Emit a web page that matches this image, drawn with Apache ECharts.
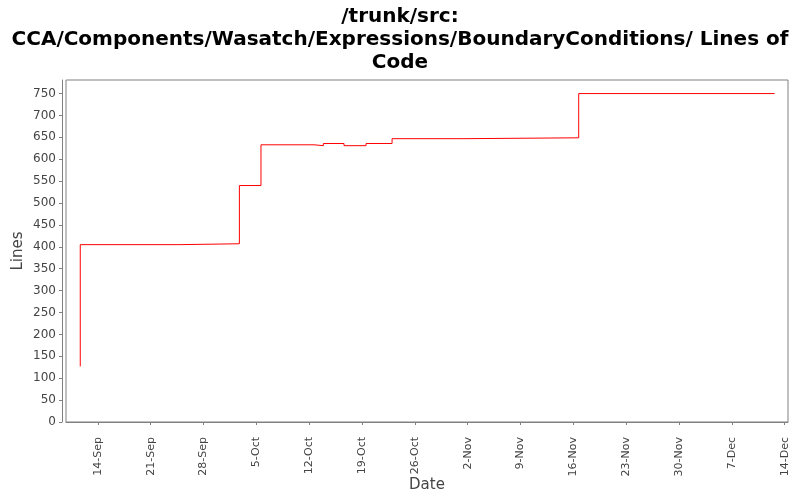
<!DOCTYPE html>
<html>
<head>
<meta charset="utf-8">
<script src="https://cdn.jsdelivr.net/npm/echarts@6/dist/echarts.min.js"></script>
<style>html,body{margin:0;padding:0;background:#fff;}#c{width:800px;height:500px;}</style>
</head>
<body>
<div id="c"></div>
<script>
// Data
var changeDates = [
  "2009-09-11 16:00", "2009-09-11 16:00", "2009-09-24 17:45", "2009-10-02 18:00",
  "2009-10-05 14:40", "2009-10-12 15:20", "2009-10-13 21:00", "2009-10-16 14:40",
  "2009-10-19 12:45", "2009-10-22 23:30", "2009-11-01 12:00", "2009-11-16 17:00",
  "2009-12-12 16:00"
];
var linesOfCode = [127, 405, 407, 540, 633, 631, 636, 631, 636, 647, 649, 750, 750];
var tickDates = [
  "2009-09-14", "2009-09-21", "2009-09-28", "2009-10-05", "2009-10-12", "2009-10-19",
  "2009-10-26", "2009-11-02", "2009-11-09", "2009-11-16", "2009-11-23", "2009-11-30",
  "2009-12-07", "2009-12-14"
];
var monthNames = ["Jan","Feb","Mar","Apr","May","Jun","Jul","Aug","Sep","Oct","Nov","Dec"];
var axisStart = "2009-09-09 18:40";
var axisEnd = "2009-12-14 10:30";

function toMs(s) {
  if (s.length === 10) s += " 00:00";
  return Date.parse(s.replace(" ", "T") + ":00Z");
}
var seriesData = changeDates.map(function (d, i) { return [toMs(d), linesOfCode[i]]; });
var tickMs = tickDates.map(toMs);

var chart = echarts.init(document.getElementById('c'), null, {renderer: 'canvas'});
chart.setOption({
  animation: false,
  backgroundColor: '#ffffff',
  title: {
    text: '/trunk/src:\nCCA/Components/Wasatch/Expressions/BoundaryConditions/ Lines of\nCode',
    left: 'center',
    top: 0,
    textStyle: {
      fontFamily: 'DejaVu Sans',
      fontWeight: 'bold',
      fontSize: 20,
      lineHeight: 23,
      color: '#000'
    }
  },
  grid: {
    left: 66, right: 12, top: 80, bottom: 78,
    outerBoundsMode: 'none',
    containLabel: false,
    show: true, borderColor: '#808080', borderWidth: 1, backgroundColor: '#fff'
  },
  xAxis: {
    type: 'value',
    min: toMs(axisStart),
    max: toMs(axisEnd),
    offset: 4,
    name: 'Date',
    nameLocation: 'middle',
    nameGap: 52,
    nameMoveOverlap: false,
    nameTextStyle: {fontFamily: 'DejaVu Sans', fontSize: 15, color: '#444'},
    axisLine: {show: true, lineStyle: {color: '#808080'}},
    axisTick: {show: true, length: 3, customValues: tickMs, lineStyle: {color: '#808080'}},
    axisLabel: {
      customValues: tickMs,
      rotate: 90,
      margin: 11,
      fontFamily: 'DejaVu Sans',
      fontSize: 11,
      color: '#444',
      formatter: function (v) {
        var d = new Date(v);
        return d.getUTCDate() + '-' + monthNames[d.getUTCMonth()];
      }
    },
    splitLine: {show: false}
  },
  yAxis: {
    type: 'value',
    min: 0,
    max: 781,
    interval: 50,
    offset: 4,
    name: 'Lines',
    nameLocation: 'middle',
    nameGap: 36,
    nameMoveOverlap: false,
    nameTextStyle: {fontFamily: 'DejaVu Sans', fontSize: 15, color: '#444'},
    axisLine: {show: true, lineStyle: {color: '#808080'}},
    axisTick: {show: true, length: 3, lineStyle: {color: '#808080'}},
    axisLabel: {
      fontFamily: 'DejaVu Sans', fontSize: 12, color: '#444', margin: 6,
      showMaxLabel: false
    },
    splitLine: {show: false}
  },
  series: [{
    type: 'line',
    step: 'end',
    data: seriesData,
    showSymbol: false,
    lineStyle: {color: '#ff0000', width: 1},
    itemStyle: {color: '#ff0000'}
  }]
});
</script>
</body>
</html>
